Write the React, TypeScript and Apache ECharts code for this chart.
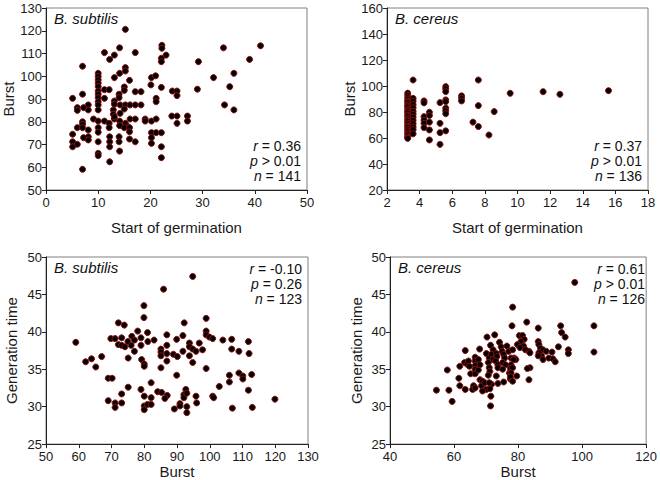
import React, { useEffect, useRef } from "react";
import * as echarts from "echarts";

// Panel A: B. subtilis — start of germination vs burst
const subtilisGermBurst: [number, number][] = [
  [15.2,120.6],[11.2,110.4],[14.1,112.5],[13.1,109.3],[12.2,107.4],[17.1,110.4],[22.2,113.6],[22.2,112.3],[23,109.3],[22.1,107.9],[22.1,106.4],[7.0,104.4],
  [10,101.3],[10,99.9],[10,98.4],[10,97.0],[10,95.5],
  [15.2,103.8],[15.2,102.3],[14.1,101.3],[13.1,99.4],[16.0,98.2],[20.2,99.4],[21.0,100.2],[20.1,96.2],[22.1,95.1],[15.0,95.3],[15.0,93.8],[11.2,94.1],[12.1,94.1],
  [10,93.5],[10,92.1],[10,90.6],[10,88.8],[10,87.4],
  [17.1,93.2],[18.2,93.2],[14.0,92.1],[14.0,90.6],[24.2,93.5],[25.1,93.5],[25.1,91.5],[21.1,90.3],[21.1,88.8],[11.2,90.3],[7.0,92.1],[5.1,90.3],[13.1,89.1],[13.1,87.7],
  [14.2,87.4],[15.2,87.4],[16.1,87.4],[17.1,87.4],[18.2,87.4],
  [8.1,87.4],[8.1,85.2],[7.2,86.2],[6.0,86.2],[6.0,85.0],
  [10,85.2],[12.9,85.2],[12.9,83.3],[15.0,85.6],[14.2,83.7],[13.1,81.2],[13.1,82.2],
  [24.1,82.5],[25.1,82.5],[25.1,79.3],
  [9.1,81.2],[10,80.3],[11.2,80.3],[12.1,79.3],[12.1,77.4],[14.1,80.3],[14.1,78.3],[16.1,81.2],[17.1,81.2],[15.2,79.3],[15.7,77.8],
  [19,81.2],[19,80.3],[20.2,80.3],[21.1,81.2],[7,80],[7,78.9],
  [6,77.4],[7,77.4],[8.1,76.4],[10,77.4],[10,75.4],[15,77.4],[16,77.4],[16,75.6],[5.1,74.5],
  [8.1,73.4],[8.1,72],[7.2,73],[12.2,73.4],[12.2,71.2],[12.2,69],[10,71.2],[14,73.4],[14,71.2],[16,72.4],[17.1,71.2],
  [20.2,75.2],[21.1,75.2],[22.1,75.2],[20.2,73],[20.2,70.5],[22.1,69],[5.1,71.2],[5.1,69],[6,70.1],
  [14.1,67.1],[10,66.1],[10,65.1],[12.2,62.4],[22.1,64.2],[7,59.1],
  [41.1,113.4],[34,112.5],[39,107.4],[29.2,106.4],[36,101.3],[32.1,99.4],[35.2,95.4],[29,94.3],[34.2,87.4],[36,85.2],[27.1,82.5],[27.1,80.3],
];

// Panel B: B. cereus — start of germination vs burst
const cereusGermBurst: [number, number][] = [
  [3.27,94.5],[3.27,92.8],[3.27,91.0],[3.27,89.6],[3.27,88.2],[3.27,87.5],[3.27,86.0],[3.27,84.7],[3.27,83.9],[3.27,82.3],
  [3.27,81.0],[3.27,80.2],[3.27,79.1],[3.27,77.6],[3.27,76.8],[3.27,75.2],[3.27,74.0],[3.27,72.9],[3.27,71.5],[3.27,70.3],
  [3.27,69.0],[3.27,68.2],[3.27,66.7],[3.27,65.5],[3.27,64.1],[3.27,63.0],[3.27,61.8],[3.27,60.5],[3.27,59.7],
  [3.6,104.6],[3.6,90.5],[3.6,88.3],[3.6,85.6],[3.6,83.2],[3.6,80.5],[3.6,78.4],[3.6,76.1],[3.6,73.6],[3.6,71.0],[3.6,68.5],[3.6,66.4],[3.6,63.2],
  [4.27,88.5],[4.27,87.0],[4.27,76.4],[4.27,73.8],[4.27,71.3],[4.27,68.0],
  [4.6,79.8],[4.6,77.3],[4.6,72.2],[4.6,66.2],[4.6,58.5],
  [5.25,87.2],[5.25,71.3],[5.25,64.1],[5.25,55.1],
  [5.6,99.5],[5.6,97.8],[5.6,95.7],[5.6,89.3],[5.6,88.0],[5.6,83.0],[5.6,81.0],[5.6,78.7],[5.6,65.5],
  [6.57,92.4],[6.57,90.5],[6.57,88.5],
  [7.27,72.2],[7.6,104.6],[7.6,84.9],[7.6,68.8],[8.25,62.3],[8.57,80.3],[9.55,94.4],[11.57,95.6],[12.6,93.6],[15.58,96.4],
];

// Panel C: B. subtilis — burst vs generation time
const subtilisBurstGen: [number, number][] = [
  [85.9,45.7],[79.9,43.5],[79.9,41.9],[72.1,41.2],[73.9,40.9],[78,40.1],[81,39.9],[59.1,38.6],
  [69.8,39.1],[71.1,39.1],[73.1,39.2],[75,38.7],[76.2,39.4],[77,38.9],[79,39.2],
  [72.1,38.3],[73.1,38.2],[74.1,38.0],[76,38.2],[79,38.2],[81.1,38.7],[83,38.9],
  [77,37.4],[85.1,37.7],[85.1,37.3],[85.1,36.8],[86.9,38.2],[86.9,37.1],[86.9,36.1],[88.9,37.0],[90.1,36.7],
  [86.9,39.6],[89.9,39.0],[91.8,39.5],[91.8,37.4],[75.1,36.5],[79.2,36.3],[80,35.7],[80,35.4],[85.1,35.2],[89.9,34.2],
  [62.1,36.0],[63.9,36.4],[65.2,35.3],[67,36.7],[69,33.8],[70.2,33.8],[75.1,32.6],[73.1,31.7],[69,30.8],
  [79,32.3],[82.1,33.2],[71.1,30.5],[71.1,29.9],[73.1,30.5],
  [80,31.4],[82.1,31.2],[80,30.1],[81,30.3],[80,29.6],[82.1,30.3],
  [84.1,32.0],[85.3,31.9],[87,31.5],[86.3,31.1],[89.2,29.7],[90.9,30.4],[90.9,30.1],[92.1,31.6],[92.1,31.2],[92.2,41.2],
  [94.8,47.4],[98.9,41.8],[98.9,40.1],[98.9,39.6],[99.9,39.3],[100.9,39.1],
  [93.8,38.5],[93.8,38.0],[94.8,37.7],[95.8,37.4],[96.8,38.5],[97.8,37.6],[93.8,36.8],[94.8,35.9],
  [104,38.9],[106.7,39.0],[111.8,38.7],[106.7,37.7],[108.9,37.4],[112,37.1],[98.9,35.1],[106,34.2],[106,33.3],
  [108.9,34.5],[110.1,34.1],[110.1,33.7],[112.8,34.3],[102.9,32.7],[111.8,32.2],[100.9,31.4],[101.2,31.2],
  [92.7,32.3],[93,31.8],[95.8,31.4],[93,30.0],[93,29.2],[96,30.5],[106.9,29.8],[113,29.9],[119.9,31.0],
];

// Panel D: B. cereus — burst vs generation time
const cereusBurstGen: [number, number][] = [
  [54.5,32.2],[57.9,34.9],[58.4,32.2],[59.4,30.7],[61.8,35.4],[61.5,33.8],[61.8,32.8],
  [63.5,37.5],[63.3,35.9],[64,35.7],[63.5,32.3],[64.5,36.1],[64.8,35.4],[65.2,34.4],[66.1,32.8],[65.8,32.3],
  [66.6,36.6],[66.6,36.1],[66.6,35.5],[66.6,35.0],[66.6,34.4],[68,37.7],[67.6,36.3],[68.1,35.6],[67.6,34.9],
  [68.1,33.6],[68.9,33.4],[68.6,32.8],[66.6,32.5],[69.6,33.2],[70.1,32.3],[68.9,32.1],
  [70.3,39.3],[70.1,37.1],[71,36.5],[70.7,35.9],[71,35.2],[71.2,34.7],[70.7,34.2],
  [71.4,38.2],[72.2,37.6],[71.7,37.0],[72.2,36.3],
  [72.7,39.6],[73.2,37.1],[73.4,36.7],[73,36.1],[73.7,35.6],[73.7,35.2],[73.2,34.1],[71.7,33.0],[71.2,32.4],[71.5,31.4],[71.4,30.1],[71,33.2],
  [74.2,38.6],[74.7,38.0],[75,37.4],[75.5,37.0],[75.8,36.5],[75.2,35.9],[76.1,35.6],[75.2,35.0],[75.5,33.3],[73.7,33.1],
  [76.5,38.1],[77.1,37.4],[77.8,36.5],[77.8,35.6],[77.6,35.1],[77.3,34.5],[77.6,33.7],[78.1,40.8],[78.3,43.3],
  [97.7,46.6],[82.7,41.3],[86.3,40.5],[93.3,40.8],[93.6,39.9],[94.7,39.3],[103.7,40.8],[103.7,37.3],
  [80.4,39.5],[81.4,39.5],[81.9,39.0],[80.9,38.7],[79.8,38.3],[81.7,38.1],[80.6,37.9],[82.3,37.6],[83.4,37.4],[83.7,37.2],
  [78.3,37.6],[78.8,36.5],[79.3,36.3],
  [86.3,38.7],[86.5,38.3],[87,37.8],[87.8,37.6],[87.3,36.8],[88.8,37.4],[89.6,36.5],[90.6,37.3],[90.9,36.4],[91.6,36.0],[92.6,38.0],[95.7,37.6],[95.7,37.1],
  [86.5,37.2],[87.8,36.3],[86.3,36.8],
  [78.3,35.2],[78.6,36.3],[77.8,34.5],[77.6,34.0],[79.6,34.1],[78.3,33.4],[83.7,35.2],[82.9,35.1],[83.4,33.6],
];

const speciesLabels = ["B. subtilis", "B. cereus", "B. subtilis", "B. cereus"];
const statsR = ["0.36", "0.37", "-0.10", "0.61"];
const statsP = ["> 0.01", "> 0.01", "= 0.26", "> 0.01"];
const statsN = ["141", "136", "123", "126"];
const xTitles = ["Start of germination", "Start of germination", "Burst", "Burst"];
const yTitles = ["Burst", "Burst", "Generation time", "Generation time"];
const xRanges = [[0, 50, 10], [2, 18, 2], [50, 130, 10], [40, 120, 20]];
const yRanges = [[50, 130, 10], [20, 160, 20], [25, 50, 5], [25, 50, 5]];

const FONT = "'Liberation Sans', Arial, sans-serif";

export default function App() {
  const ref = useRef<HTMLDivElement>(null);
  useEffect(() => {
    if (!ref.current) return;
    const chart = echarts.init(ref.current, null, { renderer: "svg" });
    const grids = [
      { left: 46, top: 8, width: 261, height: 182 },
      { left: 387, top: 8, width: 261, height: 182 },
      { left: 46, top: 257, width: 262, height: 188 },
      { left: 390, top: 257, width: 261, height: 188 },
    ];
    const datasets = [subtilisGermBurst, cereusGermBurst, subtilisBurstGen, cereusBurstGen];
    const xNameGaps = [30, 30, 18, 18];
    const axisCommon = {
      axisLine: { show: true, lineStyle: { color: "#222", width: 1 } },
      axisTick: { show: true, length: 4, lineStyle: { color: "#222" } },
      splitLine: { show: false },
      axisLabel: { color: "#1a1a1a", fontSize: 13, fontFamily: FONT },
      nameTextStyle: { color: "#1a1a1a", fontSize: 15, fontFamily: FONT },
      nameLocation: "middle" as const,
    };
    const graphics: any[] = [];
    grids.forEach((g, i) => {
      graphics.push({
        type: "text",
        left: g.left + 8,
        top: g.top + 3,
        style: { text: speciesLabels[i], fontSize: 15, fontStyle: "italic", fontFamily: FONT, fill: "#111" },
      });
      const rightX = g.left + g.width - 6;
      const lines = [
        `{i|r} = ${statsR[i]}`,
        `{i|p} ${statsP[i]}`,
        `{i|n} = ${statsN[i]}`,
      ];
      const top = i < 2 ? [146, 161, 176] : [269, 284, 299];
      lines.forEach((t, k) => {
        graphics.push({
          type: "text",
          x: rightX,
          y: top[k],
          style: {
            text: t,
            align: "right",
            verticalAlign: "middle",
            fontSize: 14,
            lineHeight: 14,
            fontFamily: FONT,
            fill: "#111",
            rich: { i: { fontStyle: "italic", fontSize: 14, lineHeight: 14, fontFamily: FONT, fill: "#111" } },
          },
        });
      });
    });
    chart.setOption({
      animation: false,
      grid: grids.map((g) => ({ ...g, show: true, borderColor: "#808080", borderWidth: 1, backgroundColor: "transparent" })),
      xAxis: grids.map((_, i) => ({
        ...axisCommon,
        type: "value",
        gridIndex: i,
        min: xRanges[i][0],
        max: xRanges[i][1],
        interval: xRanges[i][2],
        name: xTitles[i],
        nameGap: xNameGaps[i],
        axisLabel: { ...axisCommon.axisLabel, margin: 6 },
      })),
      yAxis: grids.map((_, i) => ({
        ...axisCommon,
        type: "value",
        gridIndex: i,
        min: yRanges[i][0],
        max: yRanges[i][1],
        interval: yRanges[i][2],
        name: yTitles[i],
        nameGap: i % 2 === 0 ? 27 : 26,
        axisLabel: { ...axisCommon.axisLabel, margin: 4 },
      })),
      series: datasets.map((d, i) => ({
        type: "scatter",
        xAxisIndex: i,
        yAxisIndex: i,
        data: d,
        symbolSize: 6,
        itemStyle: { color: "#000", borderColor: "#8b1010", borderWidth: 1, opacity: 1 },
      })),
      graphic: graphics,
    });
    return () => chart.dispose();
  }, []);
  return <div ref={ref} style={{ position: "fixed", left: 0, top: 0, width: 660, height: 480, background: "#fff" }} />;
}
